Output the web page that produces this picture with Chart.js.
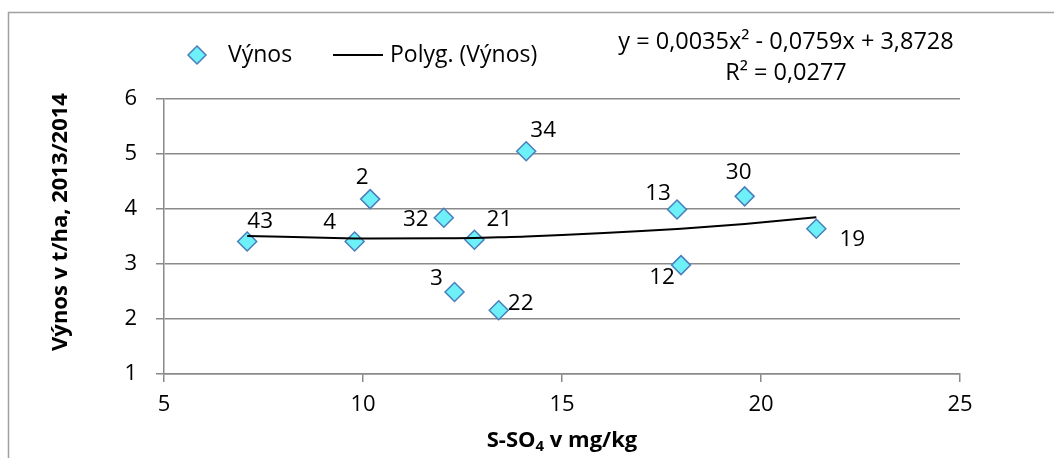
<!DOCTYPE html>
<html>
<head>
<meta charset="utf-8">
<script src="https://cdn.jsdelivr.net/npm/chart.js@4"></script>
<style>
  html, body { margin: 0; padding: 0; background: #fff; }
  #wrap { width: 1054px; height: 458px; }
</style>
</head>
<body>
<div id="wrap"><canvas id="yieldChart" width="1054" height="458"></canvas></div>
<script>
// field sample numbers, sulfate sulphur and grain yield
const sampleIds = ["43", "4", "2", "32", "21", "3", "22", "34", "13", "30", "19", "12"];
const sulfate = [7.09, 9.79, 10.18, 12.03, 12.8, 12.3, 13.41, 14.1, 17.89, 19.59, 21.39, 17.99];
const yieldT = [3.41, 3.41, 4.18, 3.84, 3.44, 2.49, 2.16, 5.05, 3.99, 4.23, 3.64, 2.98];

// polynomial trend: c0 + c1*x + c2*x^2
const trendCoef = [3.8728, -0.0759, 0.0035];
const trendText = ["y = 0,0035x² - 0,0759x + 3,8728", "R² = 0,0277"];

const xRange = [5, 25, 5];
const yRange = [1, 6, 1];

// where each sample number sits relative to its marker
const labelOffsets = [
  [13, -20], [-25, -19], [-8, -22], [-28, 2], [25, -20], [-18, -13],
  [22, -7], [17, -21], [-19, -16], [-6, -24], [36, 11], [-19, 12],
];

const FONT = "'Open Sans', 'Liberation Sans', sans-serif";
const GRID = "#8a8a8a";
const MARK_FILL = "#6ef0f8";
const MARK_EDGE = "#4a7ebb";

const scatterPoints = sulfate.map((x, i) => ({ x: x, y: yieldT[i] }));
const trendPoints = sulfate
  .slice()
  .sort((a, b) => a - b)
  .map((x) => ({ x: x, y: trendCoef[0] + trendCoef[1] * x + trendCoef[2] * x * x }));

const decorPlugin = {
  id: "decor",
  beforeDraw(chart) {
    const ctx = chart.ctx;
    ctx.save();
    ctx.strokeStyle = "#a0a0a0";
    ctx.lineWidth = 1.5;
    ctx.beginPath();
    ctx.moveTo(8.5, chart.height + 5);
    ctx.lineTo(8.5, 12.5);
    ctx.lineTo(chart.width + 5, 12.5);
    ctx.stroke();
    ctx.restore();
  },
  afterDraw(chart) {
    const ctx = chart.ctx;
    const area = chart.chartArea;
    ctx.save();
    ctx.fillStyle = "#000";
    ctx.textBaseline = "middle";

    // sample numbers next to the markers
    ctx.font = "22.5px " + FONT;
    ctx.textAlign = "center";
    const meta = chart.getDatasetMeta(1);
    meta.data.forEach((pt, i) => {
      const off = labelOffsets[i];
      ctx.fillText(sampleIds[i], pt.x + off[0], pt.y + off[1]);
    });

    // legend
    ctx.font = "23px " + FONT;
    const ly = 55;
    ctx.beginPath();
    ctx.moveTo(197, ly - 9);
    ctx.lineTo(206, ly);
    ctx.lineTo(197, ly + 9);
    ctx.lineTo(188, ly);
    ctx.closePath();
    ctx.fillStyle = MARK_FILL;
    ctx.fill();
    ctx.strokeStyle = MARK_EDGE;
    ctx.lineWidth = 1.5;
    ctx.stroke();
    ctx.fillStyle = "#000";
    ctx.textAlign = "left";
    ctx.fillText("Výnos", 228, ly);
    ctx.beginPath();
    ctx.moveTo(333, ly);
    ctx.lineTo(383, ly);
    ctx.strokeStyle = "#000";
    ctx.lineWidth = 2;
    ctx.stroke();
    ctx.fillText("Polyg. (Výnos)", 390, ly);

    // trend equation
    ctx.font = "23.5px " + FONT;
    ctx.textAlign = "center";
    ctx.fillText(trendText[0], 786, 42);
    ctx.fillText(trendText[1], 786, 73);

    // axis titles
    ctx.font = "bold 22px " + FONT;
    ctx.save();
    ctx.translate(61, 222);
    ctx.rotate(-Math.PI / 2);
    ctx.fillText("Výnos v t/ha, 2013/2014", 0, 0);
    ctx.restore();

    const cx = (area.left + area.right) / 2;
    const parts = [["S-SO", 22, 0], ["4", 15, 6], [" v mg/kg", 22, 0]];
    let total = 0;
    parts.forEach((p) => {
      ctx.font = "bold " + p[1] + "px " + FONT;
      total += ctx.measureText(p[0]).width;
    });
    let x = cx - total / 2;
    ctx.textAlign = "left";
    parts.forEach((p) => {
      ctx.font = "bold " + p[1] + "px " + FONT;
      ctx.fillText(p[0], x, 441 + p[2]);
      x += ctx.measureText(p[0]).width;
    });
    ctx.restore();
  },
};

const ctx = document.getElementById("yieldChart").getContext("2d");
const yieldChart = new Chart(ctx, {
  type: "scatter",
  data: {
    datasets: [
      {
        type: "line",
        label: "Polyg. (Výnos)",
        data: trendPoints,
        borderColor: "#000",
        borderWidth: 2,
        pointRadius: 0,
        cubicInterpolationMode: "monotone",
        fill: false,
        order: 0,
      },
      {
        label: "Výnos",
        data: scatterPoints,
        pointStyle: "rectRot",
        pointRadius: 9.5,
        pointHoverRadius: 9.5,
        backgroundColor: MARK_FILL,
        borderColor: MARK_EDGE,
        borderWidth: 1.5,
        order: 1,
      },
    ],
  },
  options: {
    responsive: false,
    animation: false,
    events: [],
    layout: {
      padding: { top: 99, right: 94, left: 0, bottom: 0 },
    },
    scales: {
      x: {
        type: "linear",
        min: xRange[0],
        max: xRange[1],
        afterFit(scale) {
          scale.height = 84;
        },
        ticks: {
          stepSize: xRange[2],
          color: "#000",
          padding: 10,
          font: { family: FONT, size: 22 },
        },
        grid: {
          drawOnChartArea: false,
          drawTicks: true,
          tickLength: 8,
          color: GRID,
          lineWidth: 1.5,
        },
        border: { display: true, color: GRID, width: 1.5 },
      },
      y: {
        min: yRange[0],
        max: yRange[1],
        afterFit(scale) {
          scale.width = 164;
        },
        ticks: {
          stepSize: yRange[2],
          color: "#000",
          padding: 19,
          font: { family: FONT, size: 22 },
        },
        grid: {
          drawTicks: true,
          tickLength: 8,
          color: GRID,
          lineWidth: 1.5,
        },
        border: { display: true, color: GRID, width: 1.5 },
      },
    },
    plugins: {
      legend: { display: false },
      tooltip: { enabled: false },
    },
  },
  plugins: [decorPlugin],
});
</script>
</body>
</html>
